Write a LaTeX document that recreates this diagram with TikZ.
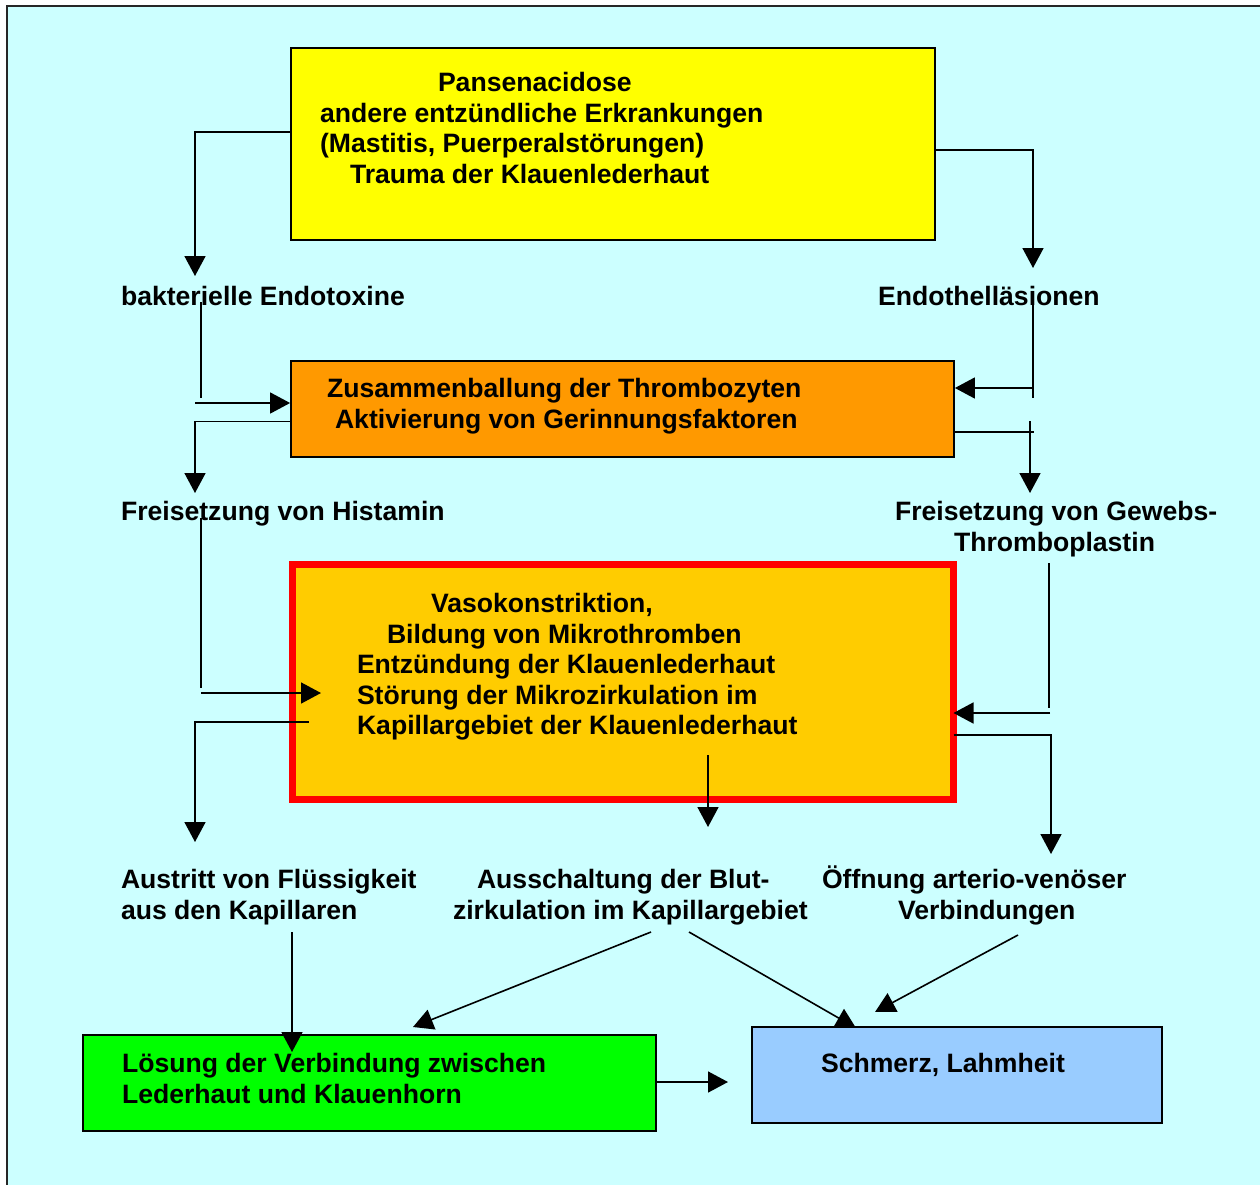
\documentclass[tikz,border=0pt]{standalone}
\usepackage{fontspec}
\setmainfont{Liberation Sans}
\usetikzlibrary{arrows.meta}
\definecolor{bgc}{HTML}{CCFFFF}
\definecolor{cyel}{HTML}{FFFF00}
\definecolor{corg}{HTML}{FF9900}
\definecolor{cgold}{HTML}{FFCC00}
\definecolor{cred}{HTML}{FF0000}
\definecolor{cgrn}{HTML}{00FF00}
\definecolor{cblu}{HTML}{99CCFF}
\newcommand{\myfs}{\fontsize{26.6pt}{30.6pt}\selectfont\bfseries}
\newcommand{\myst}{\rule{0pt}{25pt}}
\tikzset{
  boxst/.style={draw=black, line width=1.8pt, inner sep=0pt},
  lbl/.style={anchor=north west, inner sep=0pt, outer sep=0pt, align=left, font=\myfs},
  arr/.style={line width=1.6pt, -{Triangle[length=20pt,width=21pt]}},
  ln/.style={line width=1.6pt}
}
\begin{document}
\begin{tikzpicture}[x=1pt,y=-1pt]
\useasboundingbox (0,0) rectangle (1260,1185);
\fill[white] (0,0) rectangle (1260,1185);
\fill[bgc] (7,6) rectangle (1260,1185);
\draw[line width=1.5pt, black!85] (7,1186) -- (7,6) -- (1261,6);

% boxes
\node[boxst, fill=cyel, minimum width=644pt, minimum height=192pt] (yel) at (613,144) {};
\node[boxst, fill=corg, minimum width=663pt, minimum height=96pt] (org) at (622.5,409) {};
\node[draw=cred, line width=7pt, fill=cgold, inner sep=0pt, outer sep=0pt, minimum width=661pt, minimum height=235pt] (red) at (623,682) {};
\node[boxst, fill=cgrn, minimum width=573pt, minimum height=96pt] (grn) at (369.5,1083) {};
\node[boxst, fill=cblu, minimum width=410pt, minimum height=96pt] (blu) at (957,1075) {};

% box texts
\node[lbl] (tyel) at (320,66.5) {\myst\hspace*{118pt}Pansenacidose\\andere entzündliche Erkrankungen\\(Mastitis, Puerperalstörungen)\\\hspace*{30pt}Trauma der Klauenlederhaut};
\node[lbl] (torg) at (327,372.5) {\myst Zusammenballung der Thrombozyten\\\hspace*{8pt}Aktivierung von Gerinnungsfaktoren};
\node[lbl] (tred) at (357,587.5) {\myst\hspace*{74pt}Vasokonstriktion,\\\hspace*{30pt}Bildung von Mikrothromben\\Entzündung der Klauenlederhaut\\Störung der Mikrozirkulation im\\Kapillargebiet der Klauenlederhaut};
\node[lbl] (tgrn) at (122,1047.5) {\myst Lösung der Verbindung zwischen\\Lederhaut und Klauenhorn};
\node[lbl] (tblu) at (821,1047.5) {\myst Schmerz, Lahmheit};

% free labels
\node[lbl] (lbak) at (121,280.5) {\myst bakterielle Endotoxine};
\node[lbl] (lend) at (878,280.5) {\myst Endothelläsionen};
\node[lbl] (lhis) at (121,495.5) {\myst Freisetzung von Histamin};
\node[lbl] (lgew) at (895,495.5) {\myst Freisetzung von Gewebs-\\\hspace*{59pt}Thromboplastin};
\node[lbl] (laus) at (121,863.5) {\myst Austritt von Flüssigkeit\\aus den Kapillaren};
\node[lbl] (lblut) at (453,863.5) {\myst\hspace*{24pt}Ausschaltung der Blut-\\zirkulation im Kapillargebiet};
\node[lbl] (loef) at (822,863.5) {\myst Öffnung arterio-venöser\\\hspace*{76pt}Verbindungen};

% coordinates
\coordinate (a1) at (195,276);
\coordinate (a2) at (1033,268);
\coordinate (b1) at (201,302);
\coordinate (b2) at (201,398);
\coordinate (b3) at (195,403);
\coordinate (c1) at (1033,303);
\coordinate (c2) at (1033,398);
\coordinate (c3) at (1033,388);
\coordinate (a5) at (195,493);
\coordinate (d1) at (1034,432);
\coordinate (d2) at (1030,421);
\coordinate (a6) at (1030,493);
\coordinate (e1) at (201,518);
\coordinate (e2) at (201,688);
\coordinate (e3) at (201,693);
\coordinate (a7) at (321,693);
\coordinate (f1) at (309,722);
\coordinate (a8) at (195,842);
\coordinate (g1) at (708,755);
\coordinate (a9) at (708,827);
\coordinate (h1) at (1049,563);
\coordinate (h2) at (1049,708);
\coordinate (h3) at (1050,713);
\coordinate (a11) at (1051,854);
\coordinate (j1) at (292,932);
\coordinate (a12) at (292,1052);
\coordinate (k1) at (651,932);
\coordinate (a13) at (413,1027);
\coordinate (k2) at (689,932);
\coordinate (a14) at (856,1028);
\coordinate (m1) at (1018,935);
\coordinate (a15) at (875,1012);
\coordinate (a16) at (728,1082);

% connectors
\draw[arr] (yel.west |- 0,132) -| (a1);
\draw[arr] (yel.east |- 0,150) -| (a2);
\draw[ln] (b1) -- (b2);
\draw[arr] (b3) -- (org.west |- 0,403);
\draw[ln] (c1) -- (c2);
\draw[arr] (c3) -- (org.east |- 0,388);
\draw[arr] (org.west |- 0,421.5) -| (a5);
\draw[ln] (org.east |- 0,432) -- (d1);
\draw[arr] (d2) -- (a6);
\draw[ln] (e1) -- (e2);
\draw[arr] (e3) -- (a7);
\draw[arr] (f1) -| (a8);
\draw[arr] (g1) -- (a9);
\draw[ln] (h1) -- (h2);
\draw[arr] (h3) -- (red.east |- 0,713);
\draw[arr] (red.east |- 0,735) -| (a11);
\draw[arr] (j1) -- (a12);
\draw[arr] (k1) -- (a13);
\draw[arr] (k2) -- (a14);
\draw[arr] (m1) -- (a15);
\draw[arr] (grn.east |- 0,1082) -- (a16);
\end{tikzpicture}
\end{document}
